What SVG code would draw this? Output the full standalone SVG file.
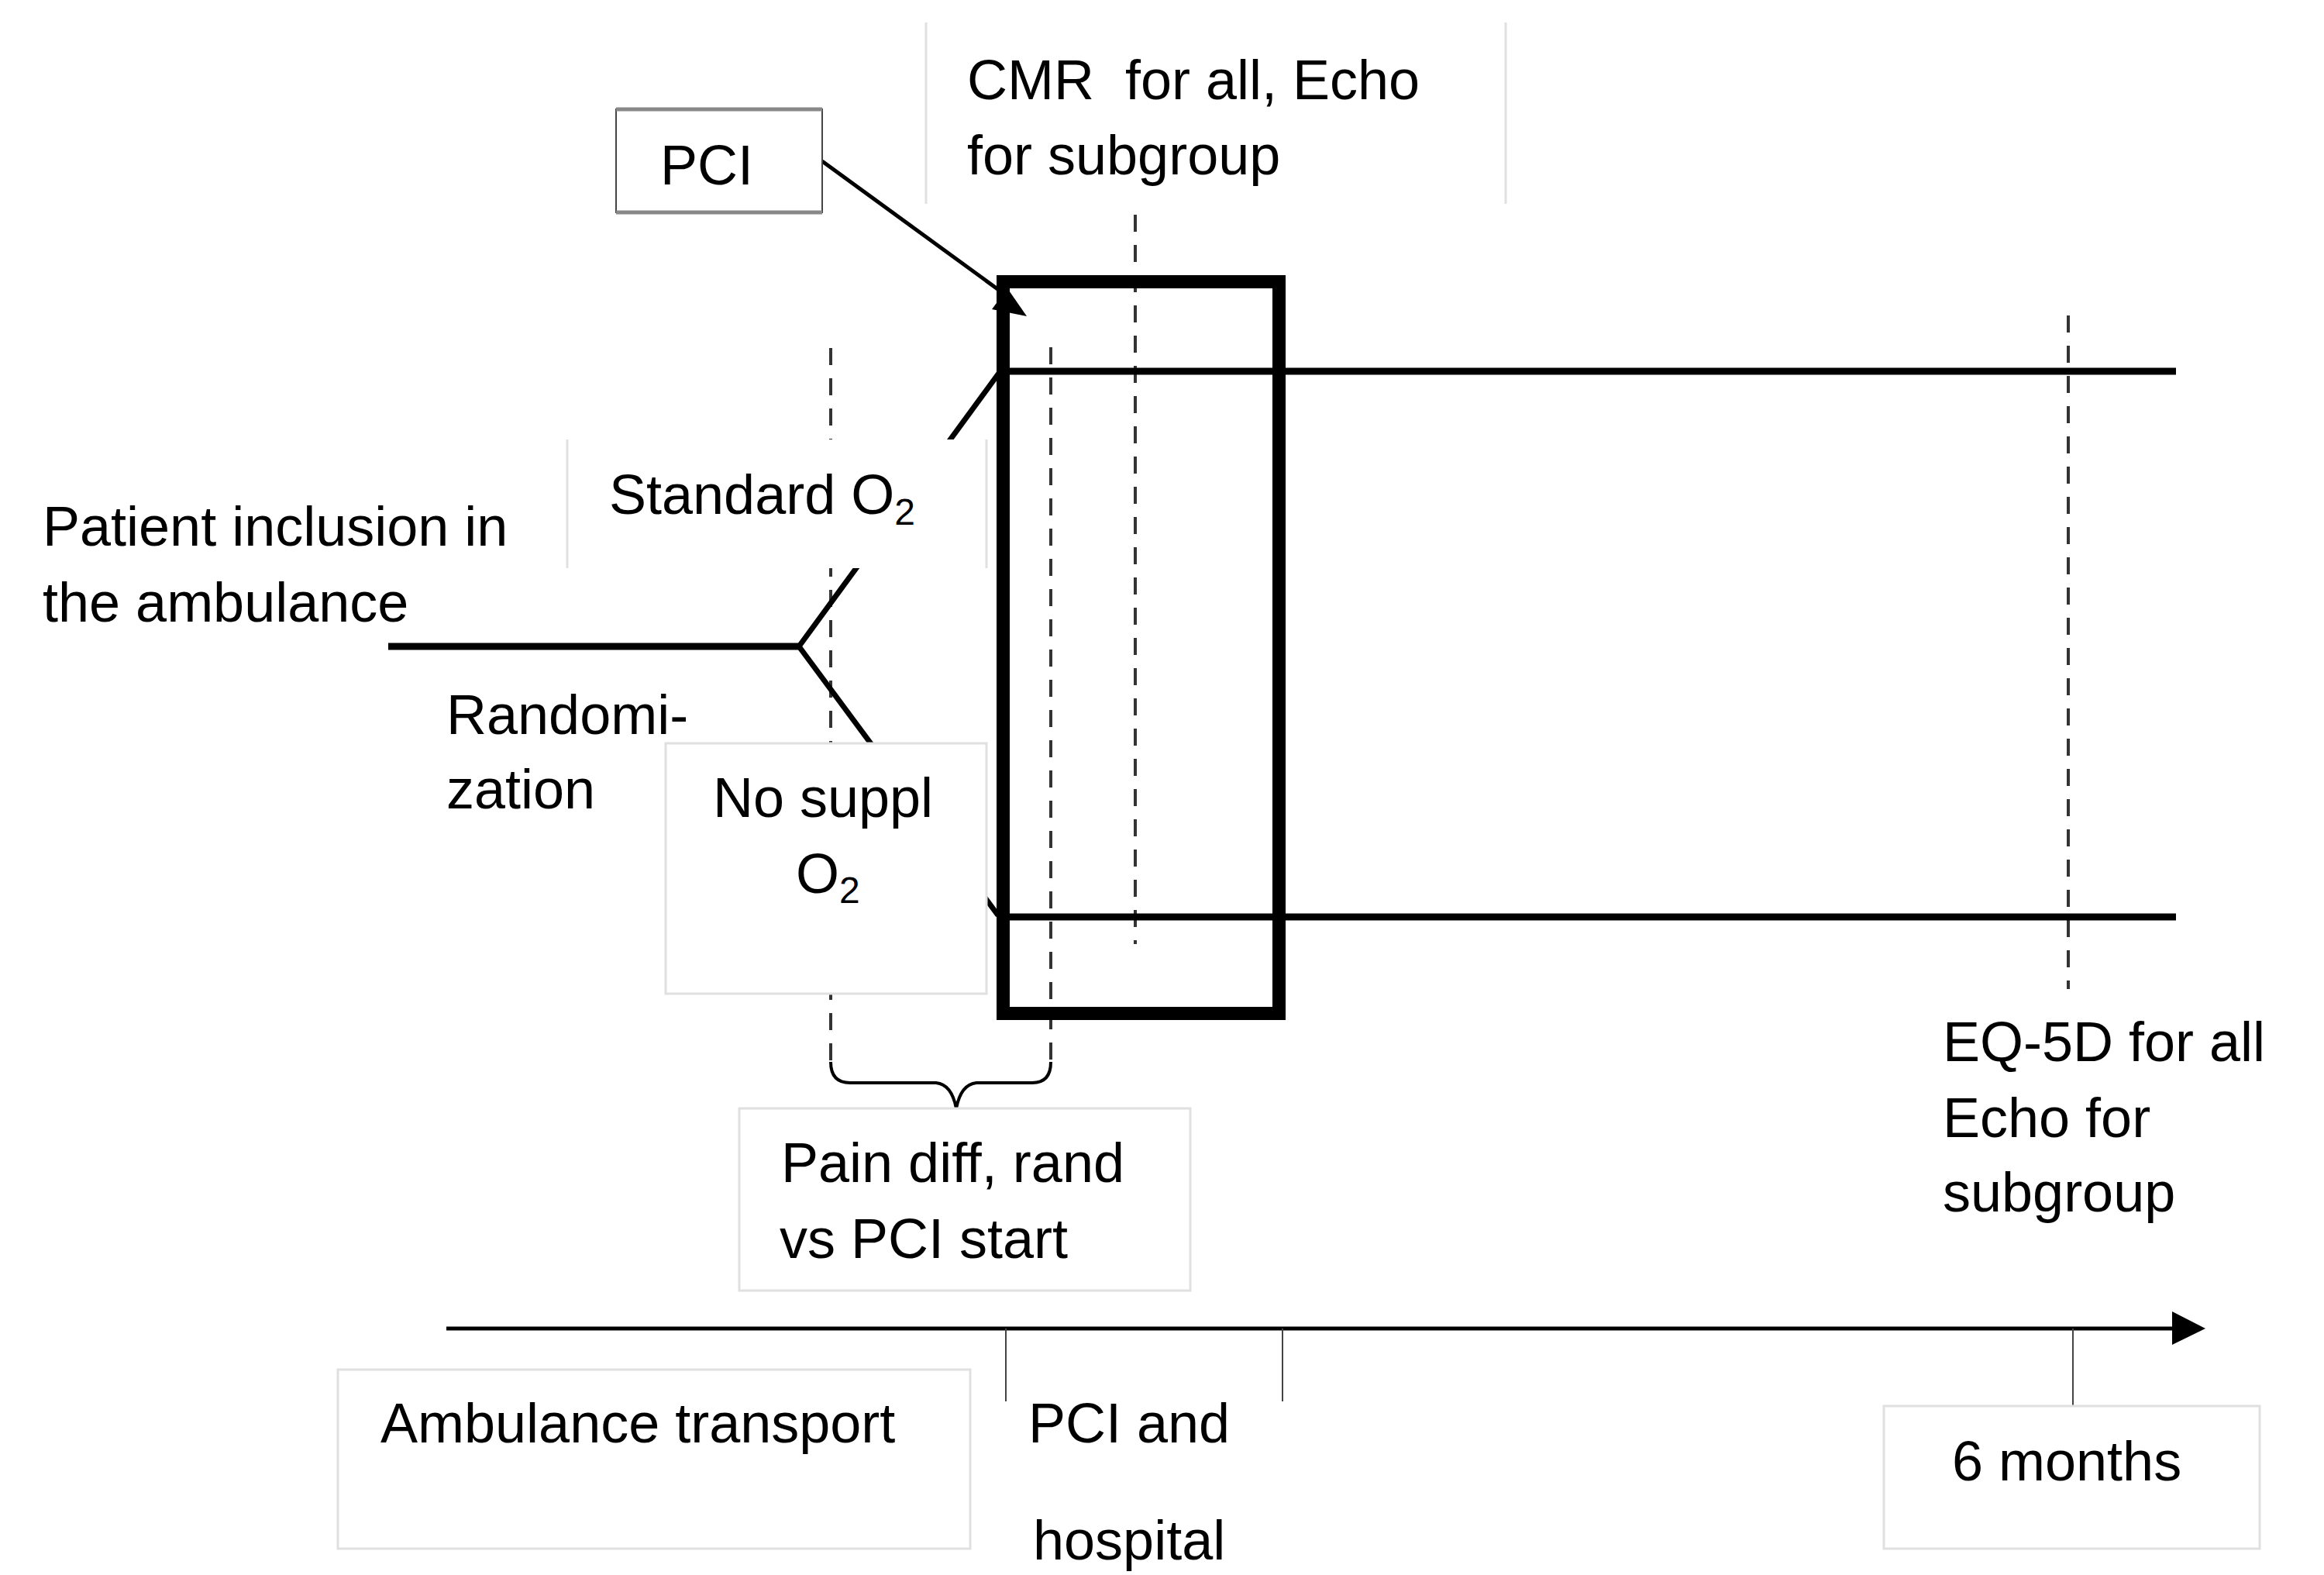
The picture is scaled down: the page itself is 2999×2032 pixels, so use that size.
<svg xmlns="http://www.w3.org/2000/svg" width="2999" height="2032" viewBox="0 0 2999 2032">
<style>
text{font-family:"Liberation Sans",Arial,sans-serif;font-size:72px;fill:#000}
.dash{stroke:#333;stroke-width:4;stroke-dasharray:22 17;fill:none}
.thick{stroke:#000;stroke-width:9;fill:none}
.branch{stroke:#000;stroke-width:7;fill:none}
.faint{fill:#fff;stroke:#e0e0e0;stroke-width:3}
.fl{stroke:#e0e0e0;stroke-width:3}
.tick{stroke:#444;stroke-width:2}
</style>
<rect width="2999" height="2032" fill="#fff"/>
<g id="connectors">
  <line class="dash" x1="1072" y1="449" x2="1072" y2="1370"/>
  <line class="dash" x1="1356" y1="448" x2="1356" y2="1370"/>
  <line class="dash" x1="1465" y1="277" x2="1465" y2="1218"/>
  <line class="dash" x1="2669" y1="407" x2="2669" y2="1276"/>
  <line class="thick" x1="501" y1="834" x2="1031" y2="834"/>
  <line class="branch" x1="1031" y1="834" x2="1290" y2="480"/>
  <line class="branch" x1="1031" y1="834" x2="1288" y2="1181"/>
  <line class="thick" x1="1294" y1="479" x2="2808" y2="479"/>
  <line class="thick" x1="1294" y1="1183" x2="2808" y2="1183"/>
  <path d="M1072,1370 Q1072,1397 1097,1397 L1208,1397 Q1228,1399 1234,1430 Q1240,1399 1260,1397 L1332,1397 Q1356,1397 1356,1370" fill="none" stroke="#000" stroke-width="4"/>
  <line x1="1061" y1="208" x2="1297" y2="380" stroke="#000" stroke-width="5"/>
  <polygon points="1300,372 1280,399 1325,408" fill="#000"/>
  <line x1="576" y1="1714" x2="2805" y2="1714" stroke="#000" stroke-width="5"/>
  <polygon points="2803,1692 2846,1714 2803,1735" fill="#000"/>
  <line class="tick" x1="1298" y1="1714" x2="1298" y2="1808"/>
  <line class="tick" x1="1655" y1="1714" x2="1655" y2="1808"/>
  <line class="tick" x1="2675" y1="1714" x2="2675" y2="1814"/>
</g>
<g id="standard">
  <rect x="732" y="567" width="541" height="166" fill="#fff"/>
  <line class="fl" x1="732" y1="567" x2="732" y2="733"/>
  <line class="fl" x1="1273" y1="567" x2="1273" y2="733"/>
  <text x="786" y="663">Standard O<tspan font-size="48" dy="14">2</tspan></text>
</g>
<g id="nosuppl">
  <rect class="faint" x="859" y="959" width="414" height="323"/>
  <text x="1062" y="1054" text-anchor="middle">No suppl</text>
  <text x="1027" y="1152">O<tspan font-size="48" dy="13">2</tspan></text>
</g>
<g id="rect">
  <rect x="1294.5" y="363.5" width="356" height="944" fill="none" stroke="#000" stroke-width="17"/>
</g>
<g id="pci">
  <rect x="795" y="141" width="266" height="133" fill="#fff" stroke="#444" stroke-width="2"/>
  <line x1="795" y1="141" x2="1061" y2="141" stroke="#888" stroke-width="5"/>
  <line x1="795" y1="274" x2="1061" y2="274" stroke="#888" stroke-width="5"/>
  <text x="852" y="238">PCI</text>
</g>
<g id="cmr">
  <line class="fl" x1="1195" y1="29" x2="1195" y2="263"/>
  <line class="fl" x1="1943" y1="29" x2="1943" y2="263"/>
  <text x="1248" y="128" xml:space="preserve">CMR  for all, Echo</text>
  <text x="1248" y="225">for subgroup</text>
</g>
<g id="patient">
  <text x="55" y="704">Patient inclusion in</text>
  <text x="55" y="802">the ambulance</text>
</g>
<g id="randomization">
  <text x="576" y="947">Randomi-</text>
  <text x="576" y="1043">zation</text>
</g>
<g id="pain">
  <rect class="faint" x="954" y="1430" width="582" height="235"/>
  <text x="1008" y="1525">Pain diff, rand</text>
  <text x="1006" y="1623">vs PCI start</text>
</g>
<g id="eq5d">
  <text x="2507" y="1369">EQ-5D for all</text>
  <text x="2507" y="1467">Echo for</text>
  <text x="2507" y="1563">subgroup</text>
</g>
<g id="ambulance">
  <rect class="faint" x="436" y="1767" width="816" height="231"/>
  <text x="491" y="1861">Ambulance transport</text>
</g>
<g id="pcihospital">
  <text x="1327" y="1861">PCI and</text>
  <text x="1333" y="2012">hospital</text>
</g>
<g id="sixmonths">
  <rect class="faint" x="2431" y="1814" width="485" height="184"/>
  <text x="2519" y="1910">6 months</text>
</g>
</svg>
